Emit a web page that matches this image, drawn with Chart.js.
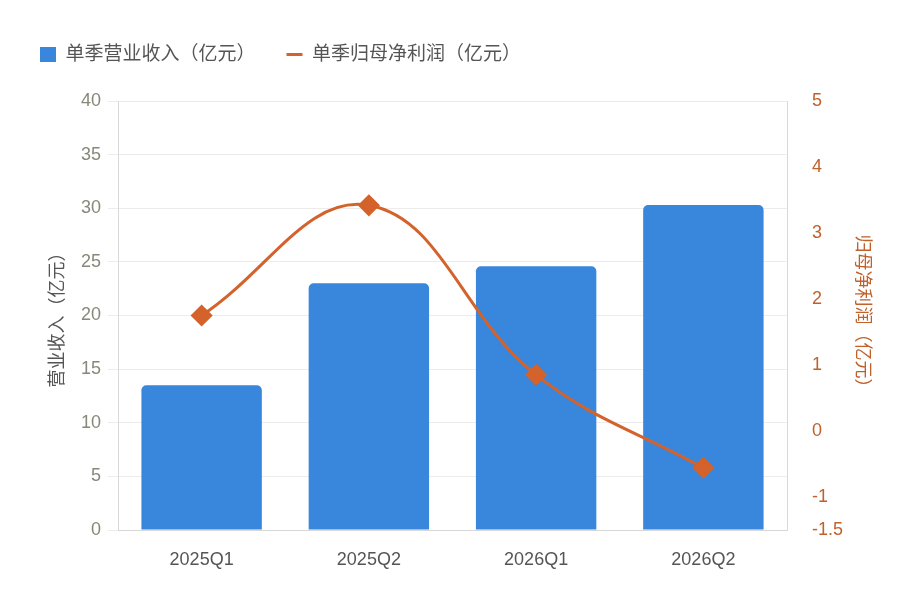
<!DOCTYPE html>
<html>
<head>
<meta charset="utf-8">
<script src="https://cdn.jsdelivr.net/npm/chart.js@4"></script>
<style>
  html, body { margin: 0; padding: 0; background: #fff; }
  #wrap { width: 904px; height: 604px; }
</style>
</head>
<body>
<div id="wrap"><canvas id="combo"></canvas></div>
<script>
const quarters = ['2025Q1', '2025Q2', '2026Q1', '2026Q2'];
const revenue = [13.5, 23.0, 24.6, 30.3];
const netProfit = [1.75, 3.42, 0.85, -0.56];

const blue = '#3887dc';
const orange = '#d4622b';
const axisOrange = '#c0612c';
const fontFamily = '"Liberation Sans", Arial, "Noto Sans CJK SC", sans-serif';

Chart.defaults.font.family = fontFamily;

// push the plot area down a bit below the legend row
const legendSpacer = {
  id: 'legendSpacer',
  beforeInit(chart) {
    const origFit = chart.legend.fit;
    chart.legend.fit = function () {
      origFit.bind(chart.legend)();
      this.height += 27;
    };
  }
};

const ctx = document.getElementById('combo').getContext('2d');

new Chart(ctx, {
  data: {
    labels: quarters,
    datasets: [
      {
        type: 'line',
        label: '单季归母净利润（亿元）',
        data: netProfit,
        yAxisID: 'y1',
        borderColor: orange,
        backgroundColor: orange,
        borderWidth: 3,
        tension: 0.4,
        pointStyle: 'rectRot',
        pointRadius: 9,
        pointBackgroundColor: orange,
        pointBorderColor: orange,
        order: 0
      },
      {
        type: 'bar',
        label: '单季营业收入（亿元）',
        data: revenue,
        yAxisID: 'y',
        backgroundColor: blue,
        borderRadius: { topLeft: 5, topRight: 5 },
        borderSkipped: 'bottom',
        categoryPercentage: 0.8,
        barPercentage: 0.9,
        order: 1
      }
    ]
  },
  options: {
    responsive: true,
    maintainAspectRatio: false,
    animation: false,
    layout: { padding: { top: 14, left: 9, right: 10, bottom: 33 } },
    plugins: {
      legend: {
        position: 'top',
        align: 'start',
        reverse: true,
        labels: {
          color: '#555',
          font: { size: 19 },
          usePointStyle: true,
          boxHeight: 15,
          pointStyleWidth: 16,
          padding: 31,
          generateLabels: (chart) => {
            const items = Chart.defaults.plugins.legend.labels.generateLabels(chart);
            items.forEach(item => {
              const ds = chart.data.datasets[item.datasetIndex];
              if (ds.type === 'line') {
                item.pointStyle = 'line';
                item.lineWidth = 3;
                item.strokeStyle = orange;
              } else {
                item.pointStyle = 'rect';
                item.fillStyle = blue;
                item.strokeStyle = blue;
                item.lineWidth = 0;
              }
            });
            return items;
          }
        }
      },
      tooltip: { enabled: false }
    },
    scales: {
      x: {
        grid: { display: false },
        border: { color: '#d8d8d8' },
        ticks: { color: '#555', font: { size: 18 }, padding: 11 },
        afterFit: (scale) => { scale.height = 41; }
      },
      y: {
        position: 'left',
        min: 0,
        max: 40,
        ticks: { stepSize: 5, color: '#88887a', font: { size: 18 }, padding: 7 },
        grid: { color: '#ececec', tickLength: 10 },
        border: { color: '#d8d8d8' },
        title: {
          display: true, text: '营业收入（亿元）', color: '#555', font: { size: 18 },
          padding: { top: 38, bottom: 12 }
        },
        afterFit: (scale) => { scale.width = 109; }
      },
      y1: {
        position: 'right',
        min: -1.5,
        max: 5,
        ticks: { stepSize: 1, color: axisOrange, font: { size: 18 }, padding: 25 },
        grid: { drawOnChartArea: false, drawTicks: false },
        border: { color: '#d8d8d8' },
        title: {
          display: true, text: '归母净利润（亿元）', color: axisOrange, font: { size: 18 },
          padding: { top: 21, bottom: 8 }
        },
        afterFit: (scale) => { scale.width = 107; }
      }
    }
  },
  plugins: [legendSpacer]
});
</script>
</body>
</html>
